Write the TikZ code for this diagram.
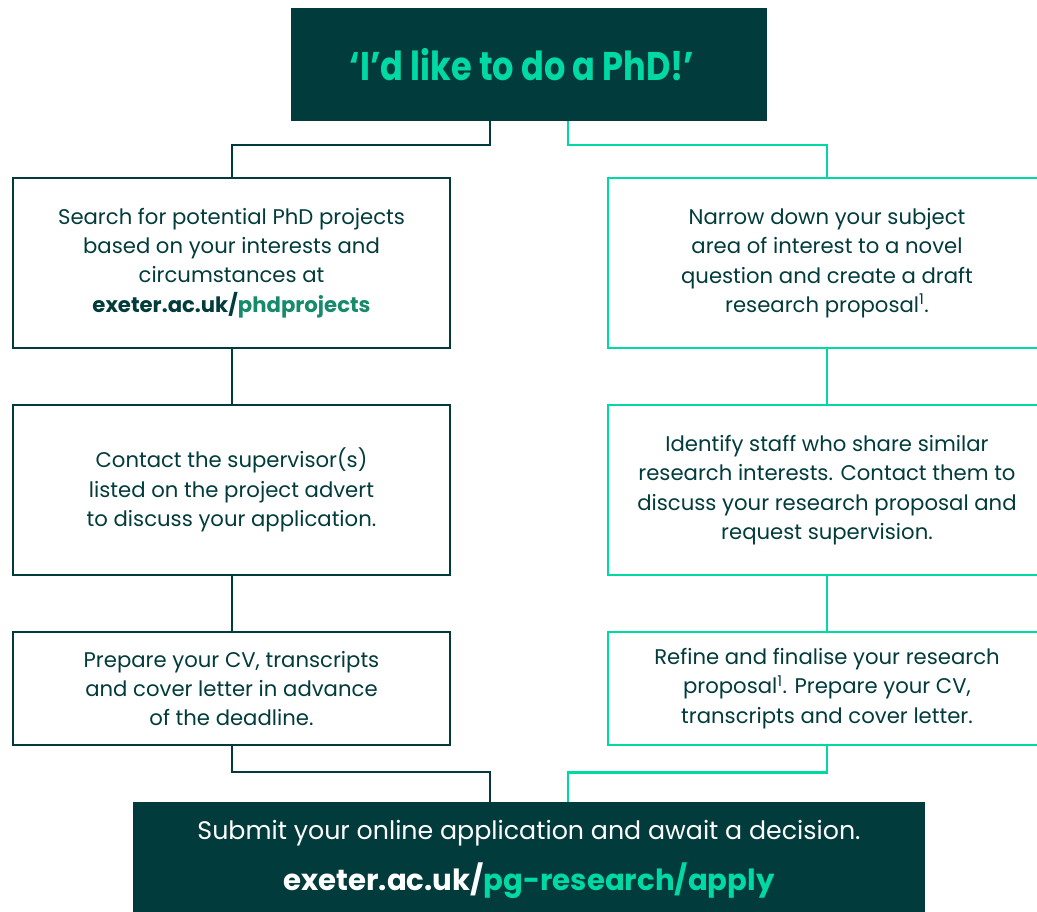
\documentclass[tikz,border=0pt]{standalone}
\usepackage{fontspec}
\setmainfont{Poppins}
\newfontfamily\titlefont{Poppins}[FakeStretch=0.84]
\usetikzlibrary{calc}
\definecolor{dk}{HTML}{023B3B}
\definecolor{gr}{HTML}{00D9A3}
\definecolor{mg}{HTML}{168A6B}
\tikzset{
  lbox/.style={draw=dk, line width=2pt, minimum width=437pt, text=dk, align=center, inner sep=0pt,
    font=\fontsize{21.2}{29.4}\selectfont},
  rbox/.style={draw=gr, line width=2.5pt, minimum width=438pt, text=dk, align=center, inner sep=0pt,
    font=\fontsize{21.2}{29.4}\selectfont},
  dkbox/.style={fill=dk, draw=none, inner sep=0pt, align=center},
  dline/.style={draw=dk, line width=2pt},
  gline/.style={draw=gr, line width=2.5pt},
}
\begin{document}
\begin{tikzpicture}[x=1pt,y=-1pt]
\useasboundingbox (0,0) rectangle (1037,912);
\begin{scope}
\clip (0,0) rectangle (1037,912);
\node[dkbox, minimum width=476pt, minimum height=113pt] (top) at (529,64.5) {};
\node[text=gr, inner sep=0pt, font=\titlefont\bfseries\fontsize{40}{48}\selectfont] (title) at (522,65) {‘I’d like to do a PhD!’};

\node[lbox, minimum height=170pt] (L1) at (231.5,263) {Search for potential PhD projects\\based on your interests and\\circumstances at\\\textbf{exeter.ac.uk/\textcolor{mg}{phdprojects}}};
\node[lbox, minimum height=170pt] (L2) at (231.5,490) {Contact the supervisor(s)\\listed on the project advert\\to discuss your application.};
\node[lbox, minimum height=113pt] (L3) at (231.5,688.5) {Prepare your CV, transcripts\\and cover letter in advance\\of the deadline.};

\node[rbox, minimum height=170pt] (R1) at (827,263) {Narrow down your subject\\area of interest to a novel\\question and create a draft\\research proposal\textsuperscript{1}.};
\node[rbox, minimum height=170pt] (R2) at (827,490) {Identify staff who share similar\\research interests. Contact them to\\discuss your research proposal and\\request supervision.};
\node[rbox, minimum height=113pt] (R3) at (827,688.5) {Refine and finalise your research\\proposal\textsuperscript{1}. Prepare your CV,\\transcripts and cover letter.};

\node[dkbox, minimum width=792pt, minimum height=112pt] (bot) at (529,858) {};
\node[text=white, font=\fontsize{25.3}{28}\selectfont, inner sep=0pt] (bt1) at (529,833) {Submit your online application and await a decision.};
\node[text=white, font=\bfseries\fontsize{29.2}{32}\selectfont, inner sep=0pt] (bt2) at (529,881) {exeter.ac.uk/\textcolor{gr}{pg-research/apply}};

% connectors
\draw[dline] ($(top.south)+(-39.5,0)$) -- ++(0,24) -| (L1.north);
\draw[gline] ($(top.south)+(39,0)$) -- ++(0,24) -| (R1.north);
\draw[dline] (L1.south) -- (L2.north);
\draw[dline] (L2.south) -- (L3.north);
\draw[gline] (R1.south) -- (R2.north);
\draw[gline] (R2.south) -- (R3.north);
\draw[dline] (L3.south) -- ++(0,26) -| ($(bot.north)+(-39.5,0)$);
\draw[gline] (R3.south) -- ++(0,26) -| ($(bot.north)+(39,0)$);
\end{scope}
\end{tikzpicture}
\end{document}
